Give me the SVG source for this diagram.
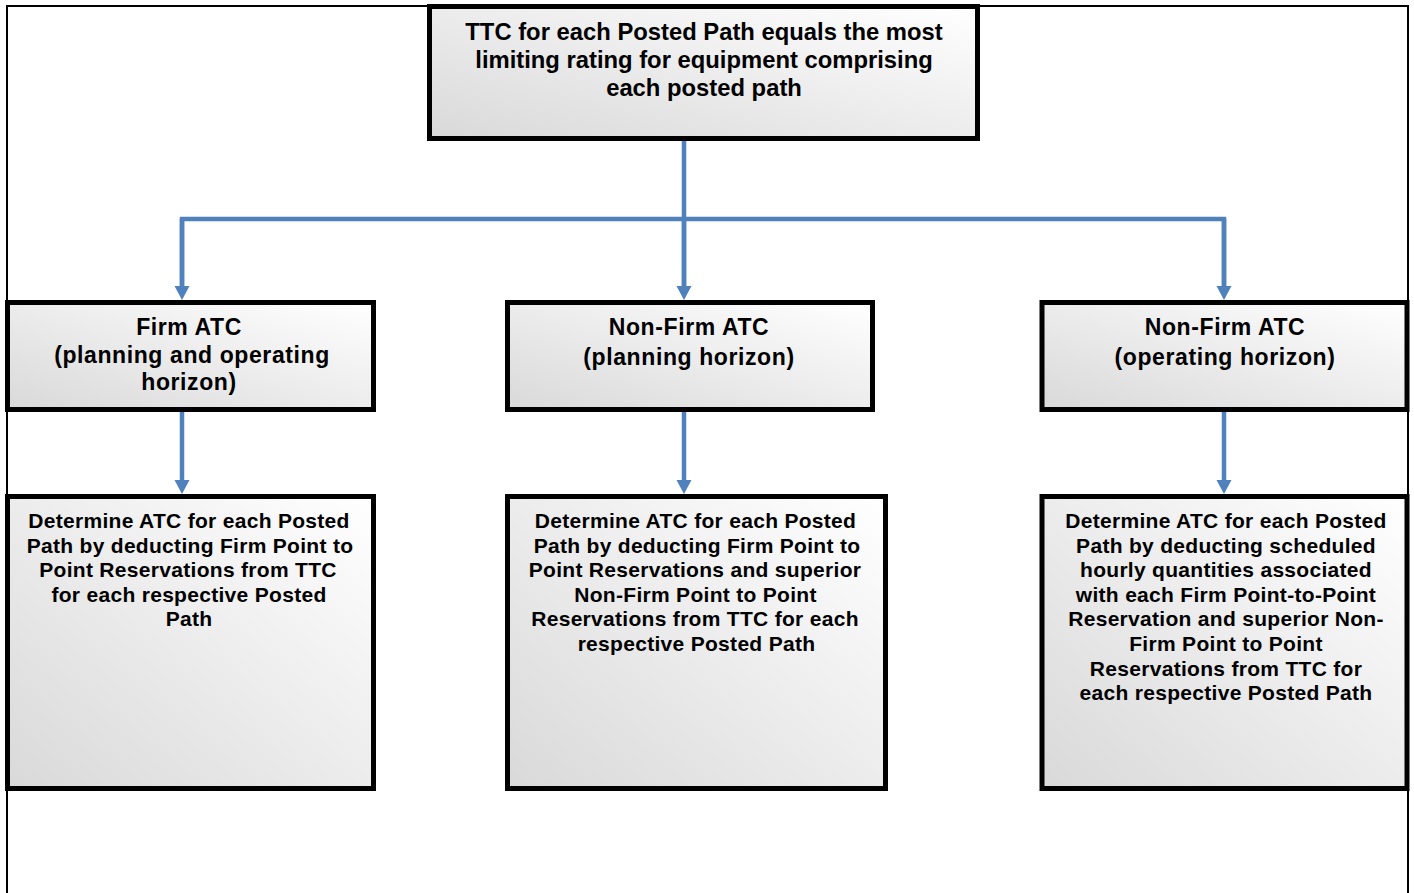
<svg xmlns="http://www.w3.org/2000/svg" width="1414" height="893" viewBox="0 0 1414 893">
<style>
.box{fill:url(#g);stroke:#000;stroke-width:5}
.conn{fill:none;stroke:#4F81BD;stroke-width:4.5}
text{font-family:"Liberation Sans",Arial,sans-serif;font-weight:bold;fill:#000;text-anchor:middle}
.t1{font-size:23.8px}
.t2{font-size:23px;letter-spacing:0.6px}
.t3{font-size:21px;letter-spacing:0.3px}
</style>
<defs>
<linearGradient id="g" x1="1" y1="0" x2="0" y2="1">
<stop offset="0" stop-color="#ffffff"/>
<stop offset="1" stop-color="#d9d9d9"/>
</linearGradient>
<marker id="ah" markerUnits="userSpaceOnUse" markerWidth="15" markerHeight="16" refX="4" refY="8" orient="auto">
<path d="M0,0.5 L14,8 L0,15.5 z" fill="#4F81BD"/>
</marker>
</defs>
<rect id="frame" x="7" y="6" width="1401" height="900" fill="none" stroke="#000" stroke-width="2"/>
<g id="connectors">
<path class="conn" d="M684,140 V290"/>
<path class="conn" d="M182,290 V219 H1224 V290"/>
<path class="conn" d="M182,219 V290" marker-end="url(#ah)"/>
<path class="conn" d="M684,219 V290" marker-end="url(#ah)"/>
<path class="conn" d="M1224,219 V290" marker-end="url(#ah)"/>
<path class="conn" d="M182,411 V484" marker-end="url(#ah)"/>
<path class="conn" d="M684,411 V484" marker-end="url(#ah)"/>
<path class="conn" d="M1224,411 V484" marker-end="url(#ah)"/>
</g>
<g id="ttc">
<rect class="box" x="429.5" y="6.5" width="548" height="132"/>
<text class="t1" x="704" y="39.5">TTC for each Posted Path equals the most</text>
<text class="t1" x="704" y="67.5">limiting rating for equipment comprising</text>
<text class="t1" x="704" y="95.5">each posted path</text>
</g>
<g id="firm">
<rect class="box" x="7.5" y="302.5" width="366" height="107"/>
<text class="t2" x="189" y="335">Firm ATC</text>
<text class="t2" x="192" y="362.5">(planning and operating</text>
<text class="t2" x="189" y="390">horizon)</text>
</g>
<g id="nonfirm-planning">
<rect class="box" x="507.5" y="302.5" width="365" height="107"/>
<text class="t2" x="689" y="335">Non-Firm ATC</text>
<text class="t2" x="689" y="365">(planning horizon)</text>
</g>
<g id="nonfirm-operating">
<rect class="box" x="1042" y="302.5" width="365" height="107"/>
<text class="t2" x="1225" y="335">Non-Firm ATC</text>
<text class="t2" x="1225" y="365">(operating horizon)</text>
</g>
<g id="firm-determine">
<rect class="box" x="7.5" y="496.5" width="366" height="292"/>
<text class="t3" x="189" y="528">Determine ATC for each Posted</text>
<text class="t3" x="190" y="552.6">Path by deducting Firm Point to</text>
<text class="t3" x="188" y="577.2">Point Reservations from TTC</text>
<text class="t3" x="189" y="601.8">for each respective Posted</text>
<text class="t3" x="189" y="626.4">Path</text>
</g>
<g id="nonfirm-planning-determine">
<rect class="box" x="507.5" y="496.5" width="378" height="292"/>
<text class="t3" x="695.5" y="528">Determine ATC for each Posted</text>
<text class="t3" x="697" y="552.6">Path by deducting Firm Point to</text>
<text class="t3" x="695" y="577.2">Point Reservations and superior</text>
<text class="t3" x="695.5" y="601.8">Non-Firm Point to Point</text>
<text class="t3" x="695" y="626.4">Reservations from TTC for each</text>
<text class="t3" x="696.5" y="651">respective Posted Path</text>
</g>
<g id="nonfirm-operating-determine">
<rect class="box" x="1042" y="496.5" width="365" height="292"/>
<text class="t3" x="1226" y="528">Determine ATC for each Posted</text>
<text class="t3" x="1226" y="552.6">Path by deducting scheduled</text>
<text class="t3" x="1226" y="577.2">hourly quantities associated</text>
<text class="t3" x="1226" y="601.8">with each Firm Point-to-Point</text>
<text class="t3" x="1226" y="626.4">Reservation and superior Non-</text>
<text class="t3" x="1226" y="651">Firm Point to Point</text>
<text class="t3" x="1226" y="675.6">Reservations from TTC for</text>
<text class="t3" x="1226" y="700.2">each respective Posted Path</text>
</g>
</svg>
